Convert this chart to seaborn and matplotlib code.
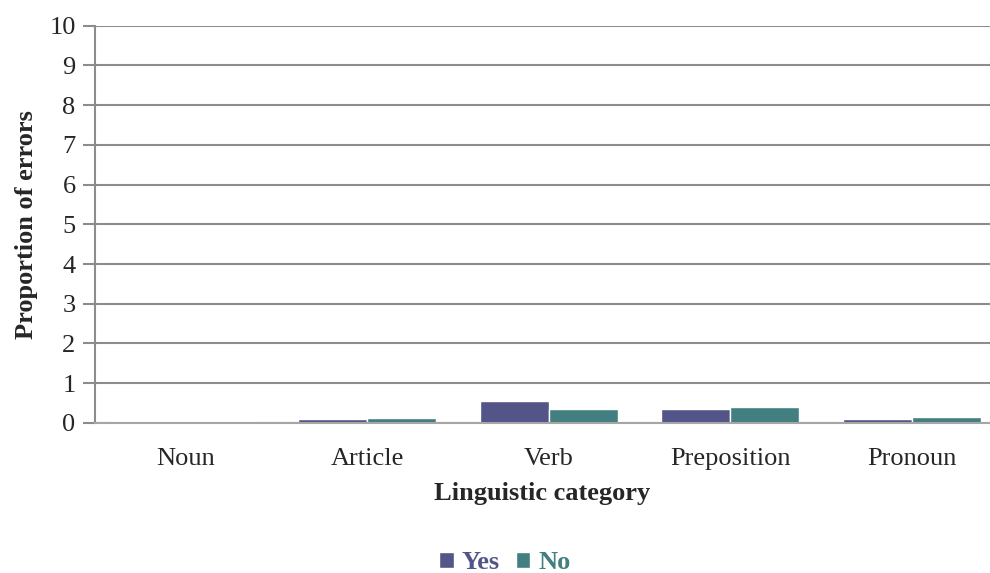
import numpy as np
import pandas as pd
import matplotlib.pyplot as plt
import seaborn as sns

sns.set_style("white")
plt.rcParams['font.family'] = ['Liberation Serif', 'DejaVu Serif']

# Data
categories = ['Noun', 'Article', 'Verb', 'Preposition', 'Pronoun']
yes_values = [0.04, 0.09, 0.56, 0.35, 0.10]
no_values = [0.04, 0.13, 0.34, 0.40, 0.14]

df = pd.DataFrame({
    'Category': categories * 2,
    'Value': yes_values + no_values,
    'Group': ['Yes'] * len(categories) + ['No'] * len(categories),
})

colors = {'Yes': '#535589', 'No': '#437F80'}

fig = plt.figure(figsize=(9.9, 5.73), dpi=100)
ax = fig.add_axes([0.096, 0.262, 0.904, 0.693])

sns.barplot(data=df, x='Category', y='Value', hue='Group', order=categories,
            hue_order=['Yes', 'No'], palette=colors, width=0.76,
            saturation=1, ax=ax, legend=True)

ax.set_ylim(0, 10)
ax.set_yticks(range(0, 11))
ax.set_xlim(-0.5, 4.43)
ax.yaxis.grid(True, color='#8c8c8c', linewidth=1.5)
ax.set_axisbelow(True)

for side in ['top', 'right']:
    ax.spines[side].set_visible(False)
ax.spines['left'].set_color('#8c8c8c')
ax.spines['left'].set_linewidth(1.5)
ax.spines['bottom'].set_color('#a6a6a6')
ax.spines['bottom'].set_linewidth(1.5)

ax.tick_params(axis='y', left=True, length=9, width=1.5, color='#8c8c8c',
               labelsize=19, pad=5)
ax.tick_params(axis='x', length=0, labelsize=19, pad=18)

ax.set_xlabel('Linguistic category', fontsize=19, fontweight='bold', labelpad=9)
ax.set_ylabel('Proportion of errors', fontsize=19, fontweight='bold', labelpad=8)

handles, labels = ax.get_legend_handles_labels()
ax.legend_.remove()
leg = fig.legend(handles, labels, loc='center', bbox_to_anchor=(0.51, 0.018),
                 ncol=2, frameon=False, fontsize=19, handlelength=0.55,
                 handleheight=0.55, handletextpad=0.3, columnspacing=0.6,
                 borderpad=0)
for text, lab in zip(leg.get_texts(), labels):
    text.set_color(colors[lab])
    text.set_fontweight('bold')

fig.savefig('out.png', dpi=100)
